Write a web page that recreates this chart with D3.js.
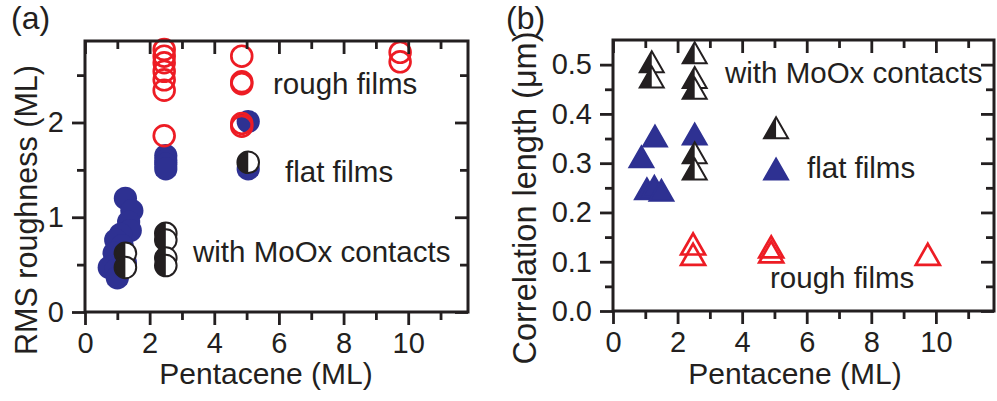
<!DOCTYPE html>
<html>
<head>
<meta charset="utf-8">
<script src="https://cdn.jsdelivr.net/npm/d3@7"></script>
<style>
  html, body { margin: 0; padding: 0; background: #fff; }
  svg { display: block; }
  text { font-family: "Liberation Sans", Arial, Helvetica, sans-serif; fill: #231f20; }
</style>
</head>
<body>
<svg id="chart" width="997" height="401"></svg>
<script>
// Pentacene thickness (ML) vs. RMS roughness (ML) — panel (a)
const flatA = [
  [1.25, 1.20], [1.45, 1.07], [1.35, 0.95], [1.40, 0.86], [1.10, 0.82], [0.95, 0.76],
  [1.15, 0.70], [0.90, 0.62], [0.75, 0.47], [0.95, 0.44], [1.00, 0.36], [1.25, 0.52],
  [2.50, 1.65], [2.50, 1.60], [2.50, 1.56], [2.50, 1.51],
  [5.05, 2.01], [5.05, 1.51]
];
const moOxA = [
  [1.25, 0.62], [1.25, 0.47],
  [2.50, 0.83], [2.50, 0.76], [2.50, 0.57], [2.50, 0.49],
  [5.05, 1.58]
];
const roughA = [
  [2.45, 2.77], [2.45, 2.70], [2.45, 2.63], [2.45, 2.54], [2.45, 2.45], [2.45, 2.34], [2.45, 1.86],
  [4.85, 2.70], [4.85, 2.43], [4.85, 2.41], [4.85, 1.99], [4.85, 1.96],
  [9.75, 2.74], [9.75, 2.64]
];

// Pentacene thickness (ML) vs. correlation length (µm) — panel (b)
const flatB = [
  [1.30, 0.355], [0.88, 0.313], [1.05, 0.248], [1.28, 0.253], [1.50, 0.245],
  [2.53, 0.359], [5.05, 0.288]
];
const moOxB = [
  [1.20, 0.506], [1.20, 0.475],
  [2.53, 0.524], [2.53, 0.474], [2.53, 0.452], [2.53, 0.321], [2.53, 0.288],
  [5.05, 0.372]
];
const roughB = [
  [2.48, 0.136], [2.48, 0.115], [4.90, 0.130], [4.90, 0.120], [9.75, 0.115]
];

// Axis ticks
const xMajor = [0, 2, 4, 6, 8, 10];
const xMinor = [1, 3, 5, 7, 9, 11];
const yMajorA = [0, 1, 2];
const yMinorA = [0.5, 1.5, 2.5];
const yMajorB = [0, 0.1, 0.2, 0.3, 0.4, 0.5];
const yMinorB = [0.05, 0.15, 0.25, 0.35, 0.45];

const BLUE = "#2e3192";
const RED = "#ed1c24";
const INK = "#231f20";

const svg = d3.select("#chart");

function framePanel(g, x, y, yMajor, yMinor, yFmt) {
  const [x0, x1] = x.range();
  const [y0, y1] = y.range();
  const MAJ = 13, MIN = 8;
  const style = sel => {
    sel.select(".domain").remove();
    sel.selectAll(".tick line").attr("stroke", INK).attr("stroke-width", 2.8);
    sel.selectAll(".tick text").style("font-size", "29px").attr("fill", INK);
  };
  // bottom (outward, labelled)
  g.append("g").attr("transform", `translate(0,${y0})`)
    .call(d3.axisBottom(x).tickValues(xMajor).tickSize(MAJ).tickPadding(7).tickFormat(d3.format("d")))
    .call(style);
  g.append("g").attr("transform", `translate(0,${y0})`)
    .call(d3.axisBottom(x).tickValues(xMinor).tickSize(MIN).tickFormat(""))
    .call(style);
  // top (inward mirror)
  g.append("g").attr("transform", `translate(0,${y1})`)
    .call(d3.axisBottom(x).tickValues(xMajor).tickSize(MAJ).tickFormat(""))
    .call(style);
  g.append("g").attr("transform", `translate(0,${y1})`)
    .call(d3.axisBottom(x).tickValues(xMinor).tickSize(MIN).tickFormat(""))
    .call(style);
  // left (outward, labelled)
  g.append("g").attr("transform", `translate(${x0},0)`)
    .call(d3.axisLeft(y).tickValues(yMajor).tickSize(MAJ).tickPadding(8).tickFormat(yFmt))
    .call(style);
  g.append("g").attr("transform", `translate(${x0},0)`)
    .call(d3.axisLeft(y).tickValues(yMinor).tickSize(MIN).tickFormat(""))
    .call(style);
  // right (inward mirror)
  g.append("g").attr("transform", `translate(${x1},0)`)
    .call(d3.axisLeft(y).tickValues(yMajor).tickSize(MAJ).tickFormat(""))
    .call(style);
  g.append("g").attr("transform", `translate(${x1},0)`)
    .call(d3.axisLeft(y).tickValues(yMinor).tickSize(MIN).tickFormat(""))
    .call(style);
  // frame
  g.append("rect")
    .attr("x", x0).attr("y", y1).attr("width", x1 - x0).attr("height", y0 - y1)
    .attr("fill", "none").attr("stroke", INK).attr("stroke-width", 3);
}

function label(g, txt, x, y, size, anchor, rotate) {
  const t = g.append("text").text(txt).style("font-size", size + "px")
    .attr("text-anchor", anchor || "start");
  if (rotate) t.attr("transform", `translate(${x},${y}) rotate(-90)`);
  else t.attr("x", x).attr("y", y);
  return t;
}

// ---------- panel (a) ----------
const xa = d3.scaleLinear().domain([0, 11.85]).range([85, 468]);
const ya = d3.scaleLinear().domain([0, 2.86]).range([312, 41]);
const ga = svg.append("g");
const R = 10.8;

const marksA = ga.append("g");
marksA.selectAll("circle.flat").data(flatA).join("circle")
  .attr("class", "flat")
  .attr("cx", d => xa(d[0])).attr("cy", d => ya(d[1])).attr("r", R + 0.8)
  .attr("fill", BLUE);

const half = marksA.selectAll("g.half").data(moOxA).join("g")
  .attr("class", "half")
  .attr("transform", d => `translate(${xa(d[0])},${ya(d[1])})`);
half.append("circle").attr("r", R).attr("fill", "#fff");
half.append("path")
  .attr("d", d3.arc()({ innerRadius: 0, outerRadius: R, startAngle: Math.PI, endAngle: 2 * Math.PI }))
  .attr("fill", INK);
half.append("circle").attr("r", R).attr("fill", "none").attr("stroke", INK).attr("stroke-width", 2);

marksA.selectAll("circle.rough").data(roughA).join("circle")
  .attr("class", "rough")
  .attr("cx", d => xa(d[0])).attr("cy", d => ya(d[1])).attr("r", R - 0.4)
  .attr("fill", "none")
  .attr("stroke", RED).attr("stroke-width", 2.7);

framePanel(ga, xa, ya, yMajorA, yMinorA, d3.format("d"));

label(ga, "rough films", 273, 94, 29.5);
label(ga, "flat films", 285, 182, 29.5);
label(ga, "with MoOx contacts", 193, 262, 29.5);
label(ga, "Pentacene (ML)", 266, 384, 30, "middle");
label(ga, "RMS roughness (ML)", 37, 210, 30.5, "middle", true);
label(ga, "(a)", 11, 29, 32);

// ---------- panel (b) ----------
const xb = d3.scaleLinear().domain([0, 11.8]).range([613, 994]);
const yb = d3.scaleLinear().domain([0, 0.55]).range([311, 40]);
const gb = svg.append("g");
const TW = 24, TH = 21;
const triPath = `M0,${-TH / 2}L${TW / 2},${TH / 2}L${-TW / 2},${TH / 2}Z`;
const triLeft = `M0,${-TH / 2}L0,${TH / 2}L${-TW / 2},${TH / 2}Z`;

const marksB = gb.append("g");
marksB.selectAll("path.flat").data(flatB).join("path")
  .attr("class", "flat")
  .attr("transform", d => `translate(${xb(d[0])},${yb(d[1])})`)
  .attr("d", triPath).attr("fill", BLUE).attr("stroke", BLUE).attr("stroke-width", 2)
  .attr("stroke-linejoin", "miter");

const htri = marksB.selectAll("g.half").data(moOxB).join("g")
  .attr("class", "half")
  .attr("transform", d => `translate(${xb(d[0])},${yb(d[1])})`);
htri.append("path").attr("d", triPath).attr("fill", "#fff");
htri.append("path").attr("d", triLeft).attr("fill", INK);
htri.append("path").attr("d", triPath).attr("fill", "none").attr("stroke", INK).attr("stroke-width", 2);

marksB.selectAll("path.rough").data(roughB).join("path")
  .attr("class", "rough")
  .attr("transform", d => `translate(${xb(d[0])},${yb(d[1])})`)
  .attr("d", triPath).attr("fill", "none").attr("stroke", RED).attr("stroke-width", 2.7);

framePanel(gb, xb, yb, yMajorB, yMinorB, d3.format(".1f"));

label(gb, "with MoOx contacts", 725, 83, 29.5);
label(gb, "flat films", 807, 178, 29.5);
label(gb, "rough films", 770, 288, 29.5);
label(gb, "Pentacene (ML)", 795, 384, 30, "middle");
label(gb, "Correlation length (\u03bcm)", 536, 198, 32.5, "middle", true);
label(gb, "(b)", 506, 29, 32);
</script>
</body>
</html>
